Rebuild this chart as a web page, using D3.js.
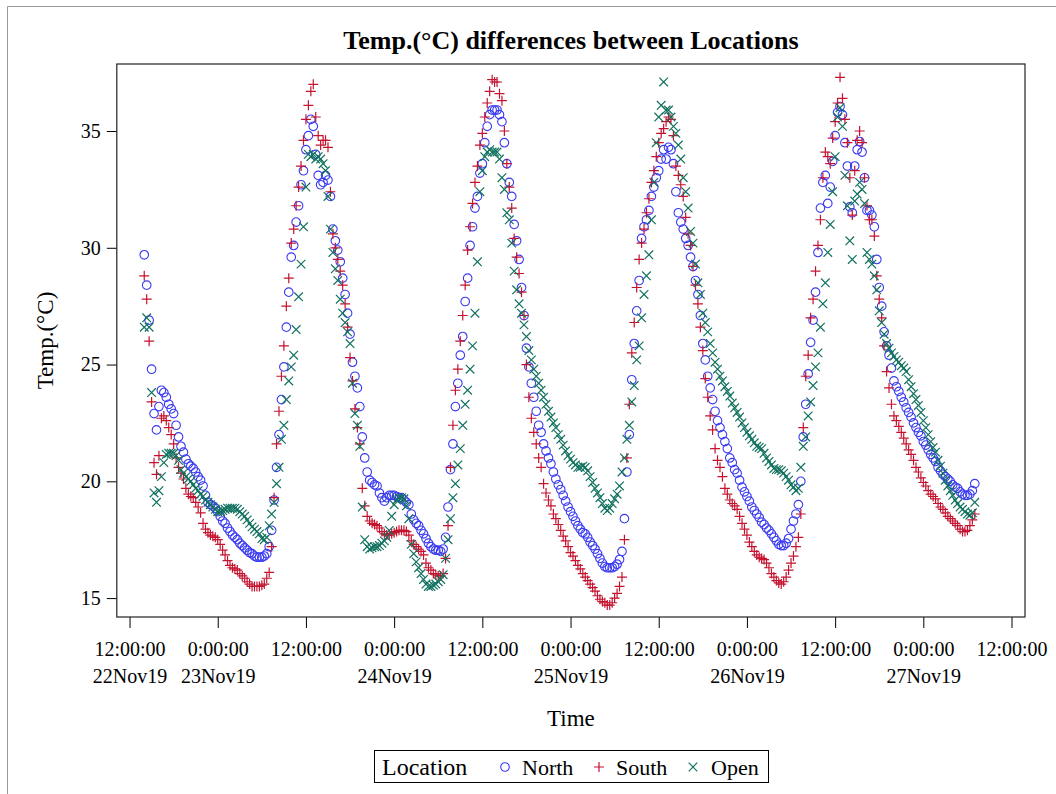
<!DOCTYPE html>
<html>
<head>
<meta charset="utf-8">
<script src="https://cdn.jsdelivr.net/npm/d3@7"></script>
<style>
  body { margin: 0; background: #fff; }
  svg text { font-family: "Liberation Serif", "Times New Roman", serif; fill: #000; }
</style>
</head>
<body>
<svg id="chart" width="1056" height="794"></svg>
<script>

// readings every 20 minutes, first one at 22Nov19 14:00
const firstReading = new Date(2019, 10, 22, 14, 0)
const stepMinutes = 20

const locations = ['North', 'South', 'Open']

const northTemps = [
  29.7, 28.4, 26.9, 24.8, 22.9, 22.2, 23.2, 23.9, 23.8, 23.6, 23.3, 23.1,
  22.9, 22.4, 21.9, 21.5, 21.25, 20.95, 20.75, 20.65, 20.55, 20.4, 20.2, 20.05,
  19.8, 19.4, 19.1, 19.0, 18.95, 18.85, 18.7, 18.5, 18.3, 18.2, 18.0, 17.85,
  17.7, 17.6, 17.5, 17.35, 17.25, 17.15, 17.05, 16.95, 16.9, 16.8, 16.75, 16.75,
  16.75, 16.8, 16.9, 17.2, 17.9, 19.2, 20.6, 22.0, 23.5, 24.9, 26.6, 28.1,
  29.6, 30.1, 31.1, 31.8, 32.7, 33.3, 34.2, 34.8, 35.5, 35.2, 34.0, 33.1,
  32.7, 32.8, 33.1, 32.9, 32.2, 30.8, 30.3, 29.9, 29.4, 28.7, 28.0, 27.2,
  26.3, 25.1, 24.5, 24.0, 23.2, 21.9, 21.0, 20.4, 20.05, 19.95, 19.85, 19.8,
  19.5, 19.3, 19.15, 19.3, 19.4, 19.4, 19.4, 19.35, 19.3, 19.3, 19.2, 19.1,
  19.0, 18.6, 18.35, 18.2, 18.1, 17.9, 17.75, 17.55, 17.35, 17.2, 17.1, 17.05,
  17.05, 17.0, 17.1, 17.6, 18.9, 20.5, 21.6, 23.2, 24.2, 25.4, 26.2, 27.7,
  28.7, 30.1, 30.9, 31.7, 32.2, 33.2, 33.6, 34.5, 35.2, 35.7, 35.9, 35.9,
  35.9, 35.7, 35.4, 34.5, 33.6, 32.8, 32.2, 31.0, 30.3, 29.5, 28.3, 27.1,
  25.7, 24.9, 24.2, 23.6, 23.0, 22.4, 22.1, 21.6, 21.3, 21.0, 20.75, 20.4,
  20.1, 19.85, 19.65, 19.4, 19.15, 18.9, 18.7, 18.5, 18.3, 18.1, 17.95, 17.8,
  17.75, 17.6, 17.4, 17.25, 17.1, 16.9, 16.7, 16.5, 16.35, 16.3, 16.3, 16.3,
  16.35, 16.45, 16.65, 17.0, 18.4, 20.4, 22.0, 24.35, 25.9, 27.3, 28.6, 30.4,
  30.9, 31.2, 31.6, 32.2, 32.6, 33.0, 33.3, 33.8, 34.2, 33.8, 34.3, 34.2,
  33.6, 32.4, 31.5, 31.1, 30.8, 30.4, 30.1, 29.6, 29.2, 28.6, 28.0, 27.1,
  25.9, 25.2, 24.5, 24.0, 23.5, 23.0, 22.6, 22.3, 22.0, 21.7, 21.4, 21.0,
  20.8, 20.5, 20.35, 20.05, 19.75, 19.55, 19.35, 19.15, 18.9, 18.75, 18.6, 18.45,
  18.25, 18.15, 18.0, 17.9, 17.75, 17.6, 17.45, 17.3, 17.25, 17.25, 17.35, 17.55,
  17.95, 18.3, 18.6, 19.0, 20.0, 21.9, 23.3, 24.6, 25.95, 26.9, 28.1, 29.8,
  31.7, 32.8, 33.1, 31.9, 32.6, 33.7, 34.8, 35.8, 36.05, 35.7, 34.5, 33.5,
  31.75, 31.5, 33.5, 34.2, 34.55, 34.1, 33.0, 31.6, 31.6, 31.4, 30.9, 29.5,
  28.3, 27.5, 26.4, 25.8, 25.4, 24.85, 24.3, 24.05, 23.85, 23.6, 23.4, 23.15,
  22.95, 22.75, 22.5, 22.3, 22.1, 21.95, 21.7, 21.55, 21.35, 21.15, 21.0, 20.85,
  20.6, 20.45, 20.3, 20.2, 20.1, 20.0, 19.85, 19.75, 19.7, 19.55, 19.45, 19.4,
  19.4, 19.45, 19.6, 19.9
]

const southTemps = [
  28.8, 27.8, 26.0, 23.4, 20.8, 20.3, 21.1, 22.7, 22.8, 22.6, 22.3, 22.0,
  21.6, 21.0, 20.6, 20.35, 20.1, 19.7, 19.45, 19.35, 19.3, 19.1, 18.9, 18.65,
  18.2, 17.95, 17.8, 17.7, 17.65, 17.6, 17.5, 17.3, 17.05, 16.85, 16.6, 16.4,
  16.3, 16.25, 16.2, 16.05, 15.95, 15.85, 15.7, 15.6, 15.5, 15.5, 15.5, 15.5,
  15.55, 15.6, 15.85, 16.1, 17.2, 19.3, 21.6, 23.0, 24.5, 25.8, 27.5, 28.7,
  30.2, 30.8, 31.8, 32.6, 33.5, 34.6, 35.5, 36.1, 36.7, 37.0, 35.6, 34.8,
  34.4, 34.6, 34.6, 34.3, 32.4, 30.6, 30.0, 29.5, 29.0, 28.4, 27.6, 26.6,
  25.3, 24.3, 23.1, 22.3, 21.6, 19.7, 18.95, 18.5, 18.3, 18.2, 18.15, 18.1,
  18.0, 17.85, 17.75, 17.7, 17.7, 17.75, 17.8, 17.85, 17.9, 17.9, 17.9, 17.85,
  17.7, 17.45, 17.3, 17.2, 17.1, 17.0, 16.85, 16.5, 16.3, 16.2, 16.05, 16.0,
  15.95, 15.95, 16.05, 16.7, 18.1, 20.6, 22.4, 23.9, 24.8, 26.0, 27.1, 28.4,
  29.9, 30.9, 31.9, 32.8, 33.5, 34.4, 34.9, 35.6, 36.2, 36.7, 37.2, 37.1,
  37.1, 36.6, 36.3, 35.0, 33.6, 32.6, 31.7, 30.4, 29.6, 28.9, 28.1, 27.1,
  25.0, 23.6, 22.7, 22.1, 21.6, 21.0, 20.6, 19.9, 19.5, 19.2, 18.95, 18.6,
  18.4, 18.15, 17.9, 17.65, 17.45, 17.2, 16.95, 16.8, 16.6, 16.4, 16.25, 16.05,
  15.9, 15.75, 15.6, 15.45, 15.3, 15.1, 14.95, 14.85, 14.8, 14.7, 14.7, 14.8,
  15.0, 15.2, 15.5, 15.9, 17.5, 21.0, 23.3, 25.5, 26.8, 28.3, 29.5, 30.2,
  30.8, 31.5, 32.1, 32.8, 33.3, 33.9, 34.5, 34.9, 35.1, 35.4, 35.6, 35.5,
  34.8, 33.5, 33.1, 32.7, 32.2, 31.3, 30.6, 30.1, 29.2, 28.4, 27.6, 26.6,
  25.6, 24.4, 23.6, 22.8, 22.2, 21.4, 20.9, 20.6, 20.2, 19.7, 19.45, 19.2,
  19.05, 18.95, 18.8, 18.5, 18.2, 17.95, 17.7, 17.4, 17.2, 17.0, 16.85, 16.75,
  16.7, 16.65, 16.5, 16.3, 16.05, 15.9, 15.75, 15.65, 15.6, 15.7, 15.9, 16.2,
  16.5, 16.8, 17.2, 17.6, 18.6, 22.3, 24.5, 25.4, 27.0, 27.8, 29.0, 30.1,
  31.2, 33.0, 34.1, 33.9, 33.6, 34.7, 35.4, 36.2, 37.3, 36.4, 35.5, 34.5,
  33.0, 31.4, 33.3, 34.6, 35.0, 34.5, 33.0, 31.8, 31.2, 31.2, 30.5, 28.8,
  27.8, 27.0, 25.8, 24.7, 24.0, 23.3, 22.8, 22.6, 22.35, 22.1, 21.85, 21.6,
  21.35, 21.15, 20.9, 20.6, 20.4, 20.15, 19.95, 19.8, 19.6, 19.45, 19.35, 19.25,
  19.05, 18.9, 18.8, 18.65, 18.5, 18.4, 18.3, 18.2, 18.1, 17.95, 17.85, 17.85,
  17.9, 18.1, 18.35, 18.6
]

const openTemps = [
  26.6, 27.0, 26.6, 23.8, 19.5, 19.1, 19.6, 20.2, 20.8, 21.15, 21.2, 21.2,
  21.2, 21.1, 20.9, 20.5, 20.35, 20.2, 20.1, 20.0, 19.85, 19.7, 19.6, 19.45,
  19.35, 19.2, 19.1, 19.0, 18.9, 18.8, 18.7, 18.7, 18.75, 18.8, 18.85, 18.85,
  18.85, 18.85, 18.8, 18.7, 18.6, 18.5, 18.35, 18.2, 18.05, 17.95, 17.85, 17.75,
  17.55, 17.5, 17.6, 18.1, 18.6, 19.1, 19.9, 20.6, 21.8, 22.4, 23.5, 24.3,
  24.9, 25.4, 26.5, 27.9, 29.3, 30.9, 32.6, 34.0, 33.9, 34.0, 33.8, 33.9,
  33.8, 33.6, 33.3, 32.2, 30.8, 29.8, 29.1, 28.6, 27.8, 27.2, 26.8, 26.4,
  25.9, 24.2, 22.9, 22.4, 21.5, 18.9, 17.5, 17.2, 17.1, 17.15, 17.2, 17.2,
  17.25, 17.35, 17.45, 17.6, 17.9, 18.5, 19.0, 19.2, 19.3, 19.3, 19.25, 18.95,
  18.4, 17.3, 16.9, 16.55, 16.3, 16.05, 15.8, 15.6, 15.5, 15.5, 15.55, 15.6,
  15.7, 15.8, 16.0, 16.7, 17.5, 18.4, 19.3, 19.9, 20.7, 21.4, 22.4, 23.3,
  23.9, 24.8, 25.8, 27.2, 29.4, 32.4, 33.3, 33.9, 34.1, 34.2, 34.1, 34.1,
  34.1, 33.8, 33.0, 32.5, 31.5, 31.2, 30.2, 29.0, 28.2, 27.6, 27.2, 26.7,
  26.2, 25.6, 25.2, 24.8, 24.5, 24.2, 23.9, 23.6, 23.3, 23.0, 22.75, 22.5,
  22.3, 22.0, 21.8, 21.55, 21.3, 21.1, 20.95, 20.8, 20.7, 20.6, 20.6, 20.65,
  20.6, 20.45, 20.2, 19.95, 19.7, 19.5, 19.3, 19.05, 18.85, 18.75, 18.85, 19.05,
  19.25, 19.45, 19.8, 20.4, 21.0, 21.8, 22.4, 23.4, 24.1, 25.2, 25.8, 27.0,
  28.0, 28.8, 29.7, 31.2, 32.8, 34.5, 35.6, 36.1, 37.1, 35.9, 35.9, 35.6,
  35.2, 34.9, 34.4, 33.8, 33.0, 32.4, 31.7, 30.7, 30.2, 29.3, 28.5, 28.0,
  27.2, 26.8, 26.4, 25.9, 25.5, 25.1, 24.8, 24.5, 24.3, 24.05, 23.85, 23.65,
  23.35, 23.15, 22.95, 22.75, 22.5, 22.3, 22.1, 21.95, 21.8, 21.65, 21.5, 21.45,
  21.4, 21.2, 21.0, 20.85, 20.7, 20.55, 20.5, 20.5, 20.45, 20.35, 20.2, 20.05,
  19.85, 19.75, 19.6, 19.7, 20.6, 21.5, 21.9, 22.8, 23.4, 24.1, 24.9, 25.5,
  26.6, 27.6, 28.5, 29.8, 31.0, 32.4, 33.9, 35.6, 36.0, 35.2, 33.1, 31.8,
  30.3, 29.5, 32.0, 32.3, 32.8, 32.5, 31.9, 29.8, 29.5, 29.3, 28.8, 28.2,
  27.3, 26.8, 26.3, 25.9, 25.7, 25.5, 25.35, 25.2, 25.1, 24.95, 24.85, 24.7,
  24.35, 24.05, 23.75, 23.5, 23.25, 22.95, 22.6, 22.3, 22.0, 21.7, 21.45, 21.25,
  20.9, 20.65, 20.35, 20.05, 19.8, 19.6, 19.4, 19.2, 19.05, 18.9, 18.8, 18.7,
  18.6, 18.55, 18.65, 19.1
]

const yTicks = [15, 20, 25, 30, 35]
const xTickTimes = ['12:00:00', '0:00:00', '12:00:00', '0:00:00', '12:00:00', '0:00:00',
                    '12:00:00', '0:00:00', '12:00:00', '0:00:00', '12:00:00']
const xTickDates = ['22Nov19', '23Nov19', '', '24Nov19', '', '25Nov19',
                    '', '26Nov19', '', '27Nov19', '']

const colors = { North: '#3a3af2', South: '#c4122f', Open: '#11715f' }

// marker shapes
const markerPath = {
  North: null,
  South: 'M-5,0H5M0,-5V5',
  Open: 'M-4.3,-4.3L4.3,4.3M-4.3,4.3L4.3,-4.3'
}

const svg = d3.select('#chart')

// thin page border
svg.append('path')
  .attr('d', 'M7.5,794V6.5H1056')
  .attr('fill', 'none')
  .attr('stroke', '#9a9a9a')

const plot = { left: 116.8, right: 1025, top: 64, bottom: 617 }

const x = d3.scaleTime()
  .domain([new Date(2019, 10, 22, 10, 16), new Date(2019, 10, 27, 13, 50)])
  .range([plot.left, plot.right])

const y = d3.scaleLinear()
  .domain([14.19, 37.87])
  .range([plot.bottom, plot.top])

const tickDates = xTickTimes.map((d, i) => new Date(2019, 10, 22 + Math.floor((i + 1) / 2), i % 2 === 0 ? 12 : 0))

// build rows
const series = { North: northTemps, South: southTemps, Open: openTemps }
const rows = []
locations.forEach(loc => {
  series[loc].forEach((v, i) => {
    rows.push({
      loc: loc,
      time: new Date(firstReading.getTime() + i * stepMinutes * 60000),
      temp: v
    })
  })
})

// title
svg.append('text')
  .attr('x', (plot.left + plot.right) / 2)
  .attr('y', 49)
  .attr('text-anchor', 'middle')
  .style('font-size', '26px')
  .style('font-weight', 'bold')
  .text('Temp.(°C) differences between Locations')

// y axis
const yAxis = svg.append('g')
  .attr('transform', `translate(${plot.left},0)`)
  .call(d3.axisLeft(y).tickValues(yTicks).tickSize(10).tickPadding(6))
yAxis.select('.domain').remove()
yAxis.selectAll('text').style('font-size', '20px').style('font-family', '"Liberation Serif", serif')
yAxis.selectAll('line').attr('stroke', '#000')

// x axis
const xAxis = svg.append('g')
  .attr('transform', `translate(0,${plot.bottom})`)
  .call(d3.axisBottom(x).tickValues(tickDates).tickSize(11).tickPadding(14)
    .tickFormat((d, i) => xTickTimes[i]))
xAxis.select('.domain').remove()
xAxis.selectAll('line').attr('stroke', '#000')
xAxis.selectAll('text')
  .style('font-size', '20px')
  .style('font-family', '"Liberation Serif", serif')
  .each(function (d, i) {
    if (xTickDates[i]) {
      d3.select(this).append('tspan')
        .attr('x', 0)
        .attr('dy', '1.35em')
        .text(xTickDates[i])
    }
  })

// frame
svg.append('rect')
  .attr('x', plot.left).attr('y', plot.top)
  .attr('width', plot.right - plot.left).attr('height', plot.bottom - plot.top)
  .attr('fill', 'none').attr('stroke', '#222').attr('stroke-width', 1.2)

// axis labels
svg.append('text')
  .attr('transform', `translate(53,${(plot.top + plot.bottom) / 2}) rotate(-90)`)
  .attr('text-anchor', 'middle')
  .style('font-size', '23px')
  .text('Temp.(°C)')

svg.append('text')
  .attr('x', (plot.left + plot.right) / 2)
  .attr('y', 726)
  .attr('text-anchor', 'middle')
  .style('font-size', '23px')
  .text('Time')

// points
const pts = svg.append('g')
  .selectAll('g')
  .data(rows)
  .join('g')
    .attr('transform', d => `translate(${x(d.time)},${y(d.temp)})`)

pts.filter(d => d.loc === 'North')
  .append('circle')
    .attr('r', 4.3)
    .attr('fill', 'none')
    .attr('stroke', colors.North)
    .attr('stroke-width', 1.1)

pts.filter(d => d.loc !== 'North')
  .append('path')
    .attr('d', d => markerPath[d.loc])
    .attr('fill', 'none')
    .attr('stroke', d => colors[d.loc])
    .attr('stroke-width', 1.2)

// legend
const legend = svg.append('g')
legend.append('rect')
  .attr('x', 374.5).attr('y', 750.5).attr('width', 394).attr('height', 32)
  .attr('fill', 'none').attr('stroke', '#000')
legend.append('text')
  .attr('x', 382).attr('y', 775)
  .style('font-size', '24px')
  .text('Location')

const legendItems = [
  { loc: 'North', mx: 505, tx: 522 },
  { loc: 'South', mx: 599, tx: 616 },
  { loc: 'Open', mx: 693, tx: 711 }
]
legendItems.forEach(it => {
  const g = legend.append('g').attr('transform', `translate(${it.mx},767)`)
  if (it.loc === 'North') {
    g.append('circle').attr('r', 4.3).attr('fill', 'none')
      .attr('stroke', colors.North).attr('stroke-width', 1.1)
  } else {
    g.append('path').attr('d', markerPath[it.loc]).attr('fill', 'none')
      .attr('stroke', colors[it.loc]).attr('stroke-width', 1.2)
  }
  legend.append('text')
    .attr('x', it.tx).attr('y', 775)
    .style('font-size', '22px')
    .text(it.loc)
})

</script>
</body>
</html>
